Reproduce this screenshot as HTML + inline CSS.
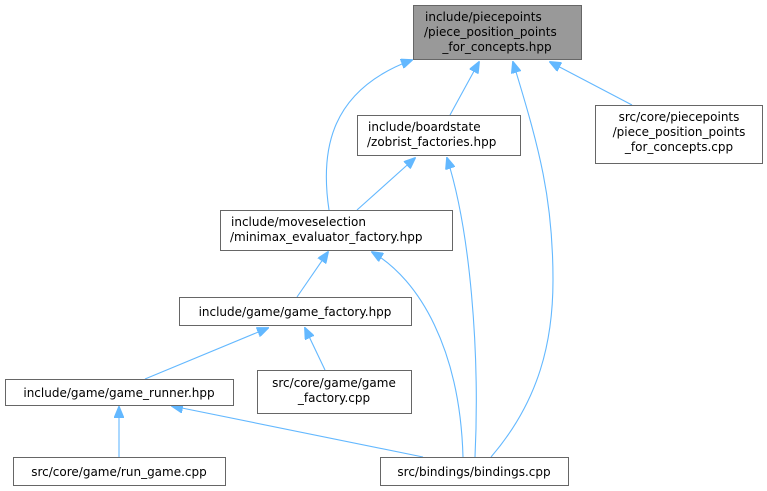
<!DOCTYPE html>
<html><head><meta charset="utf-8"><style>
html,body{margin:0;padding:0;background:#fff;width:767px;height:491px;overflow:hidden}
svg{display:block}
text{font-family:"DejaVu Sans","Liberation Sans",sans-serif;font-size:12px;fill:#000}
</style></head><body>
<svg width="767" height="491" viewBox="0 0 767 491">
<defs>
<marker id="a" markerWidth="12" markerHeight="10" refX="11" refY="5" orient="auto" markerUnits="userSpaceOnUse">
<path d="M0,0 L12,5 L0,10 Z" fill="#63b8ff" stroke="#63b8ff"/>
</marker>
</defs>
<g fill="none" stroke="#63b8ff" stroke-width="1.1" marker-end="url(#a)">
<path d="M329,210 C320,150 330,90 412,60"/>
<path d="M450,115 L479,62"/>
<path d="M491,457 C540,400 553,340 553,280 C553,200 540,150 513,62"/>
<path d="M632,105 L550,62"/>
<path d="M357,210 L415,158"/>
<path d="M475,457 C480,350 470,230 447,158"/>
<path d="M297,297 L328,252"/>
<path d="M463,457 C460,350 420,280 372,252"/>
<path d="M145,379 L268,328"/>
<path d="M325,370 L305,328"/>
<path d="M119,457 L119,407"/>
<path d="M423,457 L172,406"/>
</g>
<g stroke="#666" stroke-width="1">
<rect x="413.5" y="5.5" width="168" height="54" fill="#999"/>
<rect x="357.5" y="115.5" width="163" height="40" fill="#fff"/>
<rect x="595.5" y="105.5" width="167" height="58" fill="#fff"/>
<rect x="220.5" y="210.5" width="232" height="40" fill="#fff"/>
<rect x="179.5" y="297.5" width="232" height="28" fill="#fff"/>
<rect x="5.5" y="379.5" width="228" height="26" fill="#fff"/>
<rect x="257.5" y="370.5" width="154" height="43" fill="#fff"/>
<rect x="13.5" y="457.5" width="212" height="28" fill="#fff"/>
<rect x="380.5" y="457.5" width="188" height="28" fill="#fff"/>
</g>
<text x="425" y="21">include/piecepoints</text>
<text x="424" y="36">/piece_position_points</text>
<text x="497" y="51" text-anchor="middle">_for_concepts.hpp</text>
<text x="368" y="131">include/boardstate</text>
<text x="367" y="146">/zobrist_factories.hpp</text>
<text x="679" y="121" text-anchor="middle">src/core/piecepoints</text>
<text x="679" y="136" text-anchor="middle">/piece_position_points</text>
<text x="679" y="151" text-anchor="middle">_for_concepts.cpp</text>
<text x="231" y="226">include/moveselection</text>
<text x="230" y="241">/minimax_evaluator_factory.hpp</text>
<text x="295" y="316" text-anchor="middle">include/game/game_factory.hpp</text>
<text x="119" y="397" text-anchor="middle">include/game/game_runner.hpp</text>
<text x="334" y="387" text-anchor="middle">src/core/game/game</text>
<text x="334" y="402" text-anchor="middle">_factory.cpp</text>
<text x="119" y="476" text-anchor="middle">src/core/game/run_game.cpp</text>
<text x="474" y="476" text-anchor="middle">src/bindings/bindings.cpp</text>
</svg>
</body></html>
